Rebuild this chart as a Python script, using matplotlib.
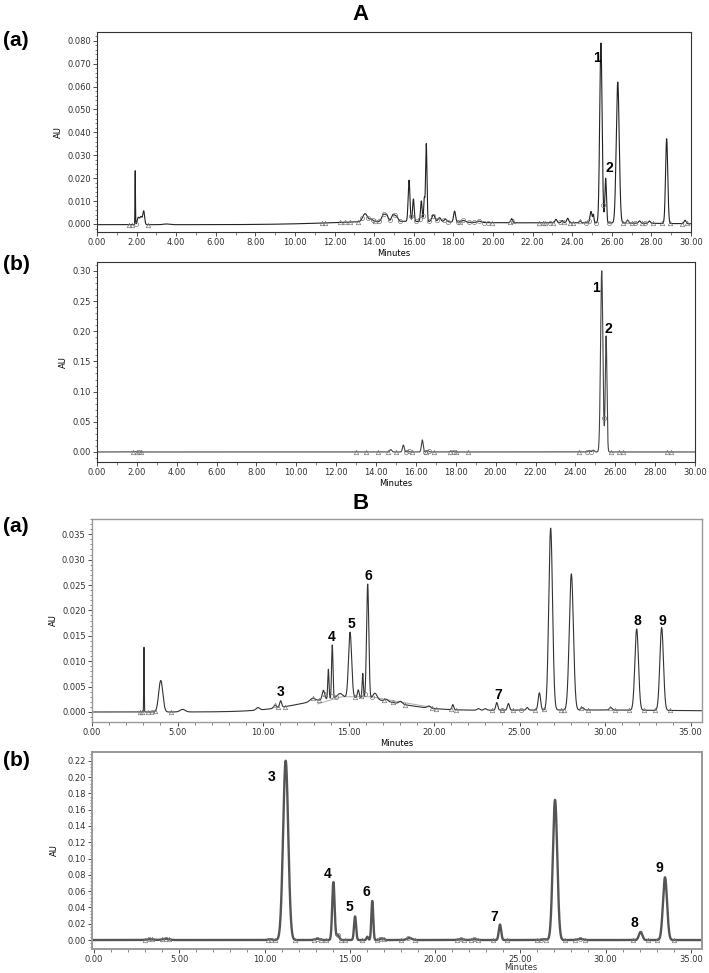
#%%
import numpy as np
import matplotlib
matplotlib.use('Agg')
import matplotlib.pyplot as plt
from matplotlib.ticker import MultipleLocator, FormatStrFormatter

#%% peak tables: retention time (min), height (AU), width (sigma, min)
# A (a) - extract
Aa_rt = [1.93, 2.08, 2.22, 2.36, 3.5, 14.8, 24.0, 13.54, 13.85, 14.46, 14.63, 14.96, 15.13,
         15.76, 15.98, 16.38, 16.53, 16.63, 16.99, 17.3, 17.6, 18.06, 18.5, 19.3, 20.94,
         23.18, 23.5, 23.77, 24.4, 24.95, 25.07, 25.45, 25.69, 26.30, 26.8, 27.4, 27.9,
         28.77, 29.70]
Aa_h = [0.0235, 0.0030, 0.0035, 0.0058, 0.0003, 0.0013, 0.0008, 0.0035, 0.0010, 0.0030,
        0.0028, 0.0030, 0.0020, 0.0180, 0.0098, 0.0090, 0.0100, 0.0340, 0.0030, 0.0018,
        0.0012, 0.0048, 0.0008, 0.0006, 0.0018, 0.0015, 0.0010, 0.0020, 0.0008, 0.0050,
        0.0035, 0.0785, 0.0195, 0.0615, 0.0012, 0.0010, 0.0010, 0.0370, 0.0015]
Aa_w = [0.012, 0.05, 0.06, 0.045, 0.15, 3.0, 5.0, 0.12, 0.08, 0.08, 0.07, 0.08, 0.07,
        0.045, 0.04, 0.04, 0.03, 0.035, 0.08, 0.07, 0.07, 0.05, 0.1, 0.1, 0.05,
        0.05, 0.05, 0.05, 0.05, 0.05, 0.03, 0.06, 0.04, 0.075, 0.05, 0.05, 0.05,
        0.055, 0.05]
Aa_offset = -0.0003

# A (b) - standards
Ab_rt = [1.9, 14.74, 15.37, 15.6, 16.32, 16.6, 17.8, 24.7, 24.9, 25.32, 25.54]
Ab_h = [0.0005, 0.004, 0.0115, 0.002, 0.020, 0.002, 0.0015, 0.002, 0.003, 0.300, 0.192]
Ab_w = [0.05, 0.05, 0.045, 0.04, 0.045, 0.05, 0.06, 0.05, 0.05, 0.058, 0.042]

# B (a) - extract
Ba_rt = [3.04, 4.02, 5.3, 9.7, 15.0, 28.0, 10.7, 11.03, 12.9, 13.53, 13.82, 14.05, 14.5,
         15.09, 15.57, 15.83, 16.12, 16.55, 17.2, 18.04, 19.7, 21.1, 22.6, 23.0, 23.67,
         24.35, 25.45, 26.16, 26.82, 28.03, 28.67, 30.33, 31.85, 33.31]
Ba_h = [0.0128, 0.0062, 0.0005, 0.0005, 0.0028, 0.0004, 0.0006, 0.0013, 0.0006, 0.0018,
        0.0058, 0.0105, 0.0008, 0.0128, 0.0015, 0.0048, 0.0225, 0.0012, 0.0004, 0.0005,
        0.0004, 0.0010, 0.0003, 0.0003, 0.0015, 0.0013, 0.0005, 0.0034, 0.0358, 0.0268,
        0.0005, 0.0005, 0.0160, 0.0163]
Ba_w = [0.015, 0.12, 0.15, 0.1, 2.6, 8.0, 0.08, 0.06, 0.15, 0.07, 0.035, 0.04, 0.15,
        0.09, 0.05, 0.035, 0.065, 0.12, 0.1, 0.1, 0.1, 0.05, 0.08, 0.08, 0.06,
        0.06, 0.06, 0.07, 0.11, 0.12, 0.08, 0.08, 0.105, 0.105]

# B (b) - standards
Bb_rt = [3.3, 4.2, 10.3, 11.24, 13.1, 14.04, 14.3, 15.31, 16.03, 16.32, 16.9, 18.5,
         21.5, 22.3, 23.81, 26.4, 27.04, 28.5, 32.06, 33.49]
Bb_h = [0.001, 0.0015, 0.001, 0.220, 0.0015, 0.071, 0.006, 0.029, 0.004, 0.048, 0.002,
        0.0025, 0.001, 0.001, 0.019, 0.001, 0.172, 0.0015, 0.010, 0.077]
Bb_w = [0.2, 0.2, 0.1, 0.15, 0.15, 0.07, 0.08, 0.06, 0.05, 0.055, 0.1, 0.15,
        0.15, 0.15, 0.07, 0.1, 0.13, 0.15, 0.1, 0.12]

# integration marks (triangles / circles) along the baseline
Aa_tri = [1.6, 1.75, 2.6, 11.35, 11.5, 12.25, 12.5, 12.8, 13.2, 14.05, 18.35, 19.95, 20.85,
          21.0, 22.3, 22.5, 22.65, 23.05, 23.6, 23.9, 24.05, 24.4, 26.55, 26.75, 27.0,
          27.5, 28.1, 28.55, 28.95, 29.55, 29.8]
Aa_circ = [1.98, 13.4, 13.7, 13.95, 14.25, 14.5, 14.8, 15.05, 15.3, 15.85, 16.1, 16.3,
           16.45, 16.75, 16.95, 17.15, 17.55, 17.75, 18.25, 18.5, 18.8, 19.05, 19.3,
           19.55, 19.75, 22.9, 23.4, 24.7, 24.85, 25.2, 25.58, 25.85, 27.15, 27.7]
Ab_tri = [1.8, 2.0, 2.2, 13.0, 13.5, 14.1, 14.6, 15.0, 15.8, 16.5, 16.9, 17.7, 18.0,
          18.6, 24.2, 25.8, 26.2, 26.4, 28.6, 28.8]
Ab_circ = [2.1, 15.5, 15.65, 16.45, 16.65, 17.9, 24.6, 24.8, 25.43]
Ba_tri = [2.8, 2.9, 3.3, 3.7, 4.6, 10.7, 10.85, 11.3, 12.9, 13.3, 13.6, 15.4, 15.75,
          17.1, 17.6, 18.3, 19.9, 20.1, 21.0, 21.3, 23.4, 24.0, 24.6, 25.9, 26.45, 27.4,
          27.6, 28.6, 29.0, 30.3, 30.6, 31.4, 32.3, 32.9, 33.8]
Ba_circ = [3.5, 13.95, 14.25, 15.95, 16.35, 23.95, 25.1]
Bb_tri = [3.0, 3.4, 4.0, 4.4, 10.2, 10.6, 11.8, 12.9, 13.3, 13.6, 14.5, 14.7, 15.7, 16.6,
          17.0, 18.0, 18.8, 21.3, 21.7, 22.1, 22.5, 23.4, 24.2, 26.0, 26.5, 27.6, 28.2,
          28.8, 31.6, 32.5, 33.0, 34.0]
Bb_circ = [3.2, 4.2, 10.4, 13.1, 14.3, 16.8, 18.4, 21.5, 22.3, 26.2, 28.5]

# projected baseline under the 13-20 min cluster in B (a)
Ba_base_t = [13.2, 14.6, 16.3, 18.5, 19.9]
Ba_base_v = [0.0016, 0.0030, 0.0030, 0.0017, 0.0009]

# peak numbers (time, AU) of the labels
Aa_lab = [('1', 25.25, 0.0725), ('2', 25.86, 0.0245)]
Ab_lab = [('1', 25.04, 0.2715), ('2', 25.64, 0.2036)]
Ba_lab = [('3', 11.05, 0.0039), ('4', 14.04, 0.0148), ('5', 15.15, 0.0173),
          ('6', 16.14, 0.0268), ('7', 23.74, 0.0033), ('8', 31.87, 0.0179),
          ('9', 33.33, 0.0179)]
Bb_lab = [('3', 10.44, 0.200), ('4', 13.72, 0.081), ('5', 14.96, 0.040),
          ('6', 15.95, 0.059), ('7', 23.46, 0.028), ('8', 31.67, 0.021),
          ('9', 33.14, 0.088)]


#%%
def trace(t, rt, h, w, offset=0.0):
    y = np.full_like(t, offset)
    for r, hh, ww in zip(rt, h, w):
        y += hh * np.exp(-0.5 * ((t - r) / ww) ** 2)
    return y


def style(ax, xlim, ylim, xmaj, xmin, ymaj, ymin, yfmt, fcol='#333333', flw=0.8):
    ax.set_xlim(*xlim)
    ax.set_ylim(*ylim)
    ax.xaxis.set_major_locator(MultipleLocator(xmaj))
    ax.xaxis.set_minor_locator(MultipleLocator(xmin))
    ax.yaxis.set_major_locator(MultipleLocator(ymaj))
    ax.yaxis.set_minor_locator(MultipleLocator(ymin))
    ax.xaxis.set_major_formatter(FormatStrFormatter('%.2f'))
    ax.yaxis.set_major_formatter(FormatStrFormatter(yfmt))
    ax.tick_params(which='major', length=3, width=0.6, labelsize=6, pad=1.5,
                   colors='#333333')
    ax.tick_params(which='minor', length=1.8, width=0.5, colors='#555555')
    for s in ax.spines.values():
        s.set_color(fcol)
        s.set_linewidth(flw)


def marks(ax, t, y, tri, circ):
    ax.plot(tri, np.interp(tri, t, y), linestyle='none', marker='^', ms=3.2,
            mfc='none', mec='#777777', mew=0.5)
    ax.plot(circ, np.interp(circ, t, y), linestyle='none', marker='o', ms=3.0,
            mfc='none', mec='#777777', mew=0.5)


W, H = 709, 973
fig = plt.figure(figsize=(W / 100, H / 100), dpi=100)


def box(l, r, top, bot):
    return [l / W, 1 - bot / H, (r - l) / W, (bot - top) / H]


lab_kw = dict(fontsize=10, fontweight='bold', family='Liberation Sans', ha='center', va='center')
hdr_kw = dict(fontsize=15, fontweight='bold', family='Liberation Sans', ha='left', va='center')

#%% A (a)
tA = np.linspace(0, 30, 9001)
ax1 = fig.add_axes(box(97, 691, 32, 232))
yAa = trace(tA, Aa_rt, Aa_h, Aa_w, Aa_offset)
ax1.plot(tA, yAa, color='#222222', lw=0.8)
marks(ax1, tA, yAa, Aa_tri, Aa_circ)
style(ax1, (0, 30), (-0.0035, 0.0838), 2, 1, 0.010, 0.002, '%.3f')
ax1.set_ylabel('AU', fontsize=6, labelpad=3)
ax1.set_xlabel('Minutes', fontsize=6, labelpad=1)
for s, x, y in Aa_lab:
    ax1.text(x, y, s, **lab_kw)

#%% A (b)
ax2 = fig.add_axes(box(97, 695, 262, 462))
yAb = trace(tA, Ab_rt, Ab_h, Ab_w)
ax2.plot(tA, yAb, color='#444444', lw=0.8)
marks(ax2, tA, yAb, Ab_tri, Ab_circ)
style(ax2, (0, 30), (-0.0166, 0.3146), 2, 1, 0.05, 0.01, '%.2f')
ax2.set_ylabel('AU', fontsize=6, labelpad=3)
ax2.set_xlabel('Minutes', fontsize=6, labelpad=1)
for s, x, y in Ab_lab:
    ax2.text(x, y, s, **lab_kw)

#%% B (a)
tB = np.linspace(0, 35.7, 10001)
ax3 = fig.add_axes(box(92, 702, 519, 722))
yBa = trace(tB, Ba_rt, Ba_h, Ba_w)
ax3.plot(Ba_base_t, Ba_base_v, color='#aaaaaa', lw=0.7)
ax3.plot(tB, yBa, color='#333333', lw=0.8)
marks(ax3, tB, yBa, Ba_tri, Ba_circ)
style(ax3, (0, 35.67), (-0.00197, 0.038), 5, 1, 0.005, 0.001, '%.3f',
      fcol='#999999', flw=1.0)
ax3.set_ylabel('AU', fontsize=6, labelpad=3)
ax3.set_xlabel('Minutes', fontsize=6, labelpad=1)
for s, x, y in Ba_lab:
    ax3.text(x, y, s, **lab_kw)

#%% B (b)
ax4 = fig.add_axes(box(92, 702, 752, 949))
yBb = trace(tB, Bb_rt, Bb_h, Bb_w)
ax4.plot(tB, yBb, color='#555555', lw=1.7)
marks(ax4, tB, yBb, Bb_tri, Bb_circ)
style(ax4, (-0.12, 35.66), (-0.011, 0.2307), 5, 1, 0.02, 0.004, '%.2f',
      fcol='#999999', flw=1.4)
ax4.set_ylabel('AU', fontsize=6, labelpad=6)
ax4.text(25.0, -0.034, 'Minutes', fontsize=6, ha='center', va='center', color='#333333')
for s, x, y in Bb_lab:
    ax4.text(x, y, s, **lab_kw)

#%% panel headers
fig.text(352 / W, 1 - 14 / H, 'A', fontsize=16, fontweight='bold',
         family='Liberation Sans', ha='left', va='center')
fig.text(352 / W, 1 - 503 / H, 'B', fontsize=16, fontweight='bold',
         family='Liberation Sans', ha='left', va='center')
fig.text(3 / W, 1 - 40 / H, '(a)', **hdr_kw)
fig.text(3 / W, 1 - 264 / H, '(b)', **hdr_kw)
fig.text(3 / W, 1 - 526 / H, '(a)', **hdr_kw)
fig.text(3 / W, 1 - 760 / H, '(b)', **hdr_kw)

fig.savefig('out.png', dpi=100)
